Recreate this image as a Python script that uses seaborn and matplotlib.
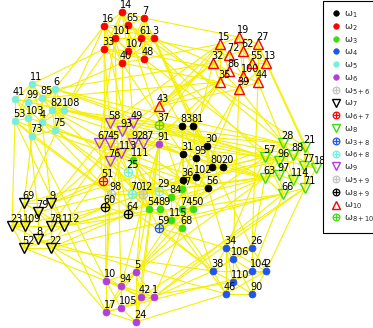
import numpy as np
import pandas as pd
import matplotlib
matplotlib.use("Agg")
import matplotlib.pyplot as plt
import seaborn as sns

# node ids and positions (pixel units)
ids_w1 = [83, 81, 30, 31, 95, 80, 20, 36, 102, 56]
x_w1 = [182, 193, 207, 183, 196, 212, 223, 183, 196, 208]
y_w1 = [126, 126, 146, 154, 158, 167, 167, 180, 177, 188]

ids_w2 = [14, 7, 16, 65, 101, 61, 3, 33, 107, 40, 48]
x_w2 = [122, 144, 104, 128, 115, 141, 154, 104, 128, 122, 144]
y_w2 = [12, 18, 26, 25, 38, 38, 38, 49, 51, 63, 59]

ids_w3 = [111, 47, 84, 54, 89, 74, 50, 115, 68]
x_w3 = [133, 182, 171, 149, 160, 182, 193, 171, 182]
y_w3 = [160, 189, 197, 209, 209, 209, 209, 220, 228]

ids_w4 = [34, 26, 106, 38, 104, 2, 110, 46, 90]
x_w4 = [226, 252, 233, 213, 252, 266, 233, 226, 252]
y_w4 = [248, 248, 259, 271, 271, 271, 282, 294, 294]

ids_w5 = [11, 6, 41, 99, 85, 82, 108, 53, 103, 4, 73, 75]
x_w5 = [32, 55, 15, 28, 42, 52, 64, 15, 28, 42, 32, 55]
y_w5 = [84, 89, 99, 102, 98, 110, 110, 121, 118, 122, 136, 130]

ids_w6 = [5, 10, 94, 42, 1, 17, 105, 24, 91]
x_w6 = [136, 106, 121, 141, 154, 106, 121, 136, 159]
y_w6 = [272, 281, 286, 297, 297, 312, 308, 322, 144]

ids_w56 = [98]
x_w56 = [111]
y_w56 = [194]

ids_w7 = [69, 9, 79, 23, 109, 78, 112, 8, 52, 22]
x_w7 = [24, 51, 38, 12, 25, 51, 64, 38, 24, 51]
y_w7 = [203, 203, 212, 226, 226, 226, 226, 239, 248, 248]

ids_w67 = [51]
x_w67 = [103]
y_w67 = [181]

ids_w8 = [28, 21, 57, 96, 88, 77, 18, 63, 97, 114, 66, 71]
x_w8 = [283, 305, 265, 279, 293, 304, 316, 265, 279, 293, 283, 305]
y_w8 = [143, 147, 157, 161, 155, 166, 168, 178, 175, 180, 194, 188]

ids_w38 = [59]
x_w38 = [159]
y_w38 = [228]

ids_w68 = [25, 70, 29]
x_w68 = [128, 132, 159]
y_w68 = [172, 194, 191]

ids_w9 = [58, 49, 93, 67, 45, 92, 87, 113, 76]
x_w9 = [110, 133, 122, 99, 110, 133, 143, 121, 110]
y_w9 = [123, 123, 131, 143, 143, 143, 143, 153, 161]

ids_w59 = [12]
x_w59 = [143]
y_w59 = [194]

ids_w89 = [60, 64]
x_w89 = [105, 128]
y_w89 = [207, 214]

ids_w10 = [19, 15, 27, 62, 72, 32, 55, 13, 86, 100, 35, 44, 39, 43]
x_w10 = [239, 220, 258, 243, 229, 213, 252, 266, 229, 243, 220, 258, 239, 159]
y_w10 = [37, 44, 44, 51, 55, 63, 63, 63, 71, 76, 82, 82, 89, 106]

ids_w810 = [37]
x_w810 = [159]
y_w810 = [125]

edges_txt = """
14-7 14-16 14-65 14-101 14-61 14-107 14-33 7-65 7-61 7-3 7-48 7-40 16-101 16-33 16-65 16-107
16-40 65-101 65-61 65-3 65-107 101-61 101-33 101-107 101-40 61-3 61-107 61-48 3-48 3-107 3-40
33-107 33-40 107-40 107-48 40-48 33-48 16-3
11-6 11-41 11-99 11-85 11-82 11-53 6-85 6-82 6-108 6-75 41-99 41-53 41-103 41-4 99-85 99-103
99-53 99-73 85-82 85-108 85-4 82-108 82-4 82-75 108-75 108-4 53-103 53-73 103-4 103-73 4-73
4-75 73-75 41-108 11-4 6-103
58-49 58-93 58-67 58-45 58-113 49-93 49-92 49-87 93-45 93-92 93-87 93-113 67-45 67-76 67-113
45-92 45-76 45-113 92-87 92-113 87-113 113-76 87-76 58-87 49-67
69-9 69-79 69-23 69-109 69-52 9-79 9-78 9-112 9-22 79-109 79-78 79-8 23-109 23-52 23-8 109-78
109-8 109-52 78-112 78-8 78-22 112-22 112-8 8-52 8-22 52-22 69-112 23-79
5-10 5-94 5-42 5-1 5-24 10-94 10-17 10-105 10-42 94-105 94-42 94-1 94-17 42-1 42-105 42-24
1-24 1-105 17-105 17-24 105-24 5-17 10-1 91-94 91-5 91-42
34-26 34-106 34-38 34-110 34-46 26-106 26-104 26-2 26-90 106-38 106-104 106-110 106-90 38-110
38-46 38-104 104-2 104-110 104-90 2-90 2-46 110-46 110-90 46-90 34-2 38-26
28-21 28-57 28-96 28-88 28-63 21-88 21-77 21-18 21-71 57-96 57-63 57-97 96-88 96-97 96-114
96-63 88-77 88-114 88-18 77-18 77-114 77-71 18-71 63-97 63-66 97-114 97-66 114-66 114-71
66-71 28-114 57-66 21-97
19-15 19-27 19-62 19-72 19-55 15-72 15-32 15-86 15-35 27-62 27-55 27-13 27-44 62-72 62-100
62-55 72-32 72-86 72-100 32-86 32-35 32-39 55-13 55-100 55-44 13-44 13-39 86-35 86-100 100-39
100-44 35-39 39-44 43-32 43-35 43-39 43-15 19-100 13-62
83-81 83-31 83-95 83-36 81-30 81-95 81-80 30-95 30-80 30-20 30-56 31-95 31-36 31-102 95-102
95-80 80-20 80-102 20-56 20-102 36-102 36-56 102-56 83-30 81-20 31-56
111-47 111-84 111-54 111-89 47-84 47-74 47-50 84-89 84-115 84-74 54-89 54-115 54-68 89-115
89-74 74-50 74-68 50-115 50-68 115-68 111-115 47-68
37-43 37-28 37-57 37-15 37-91 37-83 37-63
25-111 25-70 25-29 25-45 25-76 25-113 25-84
70-12 70-98 70-29 70-54 70-88 70-96
29-84 29-89 29-12 29-91 29-97 29-63
51-98 51-76 51-69 51-9 51-67 51-113
98-12 98-60 98-53 98-4 98-10
12-54 12-75 12-82 12-64 12-5
60-64 60-23 60-112 60-49 60-28
64-52 64-22 64-58 64-89 64-87
59-34 59-38 59-115 59-57 59-66 59-54
3-32 48-15 61-72 7-19 40-35 107-86 33-11 16-6 40-85 101-108 48-83 3-30 40-31 7-81
3-28 61-57 48-96 65-21 33-58 40-93 107-49 101-67 16-111 14-47 33-10 101-94 16-69 7-26
108-83 6-30 82-20 75-102 6-57 85-63 108-88 11-28 108-58 75-67 82-45 6-32 85-35
73-69 53-23 103-79 4-9 73-10 53-17 75-54 4-111 73-38
87-31 92-36 49-83 92-57 87-63 93-28 49-32 58-15 67-9 76-112 45-78 113-111 76-54 76-10
112-56 78-36 9-95 22-66 112-63 79-57 22-38 8-46 52-10 22-17 8-94 112-74 9-32
1-66 42-71 5-63 1-38 24-46 42-110 5-115 94-68 5-56 1-39
26-63 2-71 104-66 34-57 34-56 38-36 26-44 106-39 38-68 46-115
57-20 63-80 96-30 28-44 21-13 88-39 18-27 63-50 66-74
39-30 35-81 86-83 35-111 32-47 36-47 102-50 31-84 56-74 95-115
91-93 91-111 91-31 91-24 1-71 41-18 53-56 17-2
"""

grp = {
    "w1": (ids_w1, x_w1, y_w1), "w2": (ids_w2, x_w2, y_w2), "w3": (ids_w3, x_w3, y_w3),
    "w4": (ids_w4, x_w4, y_w4), "w5": (ids_w5, x_w5, y_w5), "w6": (ids_w6, x_w6, y_w6),
    "w56": (ids_w56, x_w56, y_w56), "w7": (ids_w7, x_w7, y_w7), "w67": (ids_w67, x_w67, y_w67),
    "w8": (ids_w8, x_w8, y_w8), "w38": (ids_w38, x_w38, y_w38), "w68": (ids_w68, x_w68, y_w68),
    "w9": (ids_w9, x_w9, y_w9), "w59": (ids_w59, x_w59, y_w59), "w89": (ids_w89, x_w89, y_w89),
    "w10": (ids_w10, x_w10, y_w10), "w810": (ids_w810, x_w810, y_w810),
}
labels = {
    "w1": "ω$_{1}$", "w2": "ω$_{2}$", "w3": "ω$_{3}$", "w4": "ω$_{4}$", "w5": "ω$_{5}$",
    "w6": "ω$_{6}$", "w56": "ω$_{5+6}$", "w7": "ω$_{7}$", "w67": "ω$_{6+7}$", "w8": "ω$_{8}$",
    "w38": "ω$_{3+8}$", "w68": "ω$_{6+8}$", "w9": "ω$_{9}$", "w59": "ω$_{5+9}$",
    "w89": "ω$_{8+9}$", "w10": "ω$_{10}$", "w810": "ω$_{8+10}$",
}

GREEN = "#3ddc10"
PURPLE = "#b13fe0"
CYAN = "#7aeedc"
BLUE = "#1f55f0"
GREY = "#c4c4c4"

# kind: dot / tri_down / tri_up / oplus
style = {
    "w1": ("dot", "black"), "w2": ("dot", "red"), "w3": ("dot", GREEN), "w4": ("dot", BLUE),
    "w5": ("dot", CYAN), "w6": ("dot", PURPLE), "w56": ("oplus", GREY), "w7": ("v", "black"),
    "w67": ("oplus", "red"), "w8": ("v", GREEN), "w38": ("oplus", BLUE), "w68": ("oplus", CYAN),
    "w9": ("v", PURPLE), "w59": ("oplus", GREY), "w89": ("oplus", "black"),
    "w10": ("^", "red"), "w810": ("oplus", GREEN),
}

pos = {}
for k, (ids, xs, ys) in grp.items():
    for i, x, y in zip(ids, xs, ys):
        pos[i] = (x, y)

rows = []
for n, e in enumerate(edges_txt.split()):
    a, b = (int(v) for v in e.split("-"))
    rows.append((n, pos[a][0], pos[a][1]))
    rows.append((n, pos[b][0], pos[b][1]))
edges = pd.DataFrame(rows, columns=["edge", "x", "y"])

sns.set_style("white")
fig = plt.figure(figsize=(3.73, 3.28), dpi=100)
ax = fig.add_axes([0, 0, 1, 1])

sns.lineplot(data=edges, x="x", y="y", units="edge", estimator=None, sort=False,
             color="#f4f000", lw=0.8, ax=ax, legend=False, zorder=1)

handles = []
for k, (ids, xs, ys) in grp.items():
    kind, c = style[k]
    if kind == "dot":
        h, = ax.plot(xs, ys, ls="none", marker="o", ms=5, mfc=c, mec=c, mew=0.5, zorder=3)
    elif kind in ("v", "^"):
        h, = ax.plot(xs, ys, ls="none", marker=kind, ms=6.5, mfc="none", mec=c, mew=1, zorder=3)
    else:
        h1, = ax.plot(xs, ys, ls="none", marker="o", ms=6, mfc="none", mec=c, mew=0.9, zorder=3)
        h2, = ax.plot(xs, ys, ls="none", marker="+", ms=6, mec=c, mew=0.9, zorder=3)
        h = (h1, h2)
    handles.append(h)
    for i, x, y in zip(ids, xs, ys):
        ax.annotate(str(i), (x, y), xytext=(-1.5, 3), textcoords="offset points",
                    ha="left", va="baseline", fontsize=7, color="black", zorder=4)

ax.set_xlim(0, 373)
ax.set_ylim(328, 0)
ax.axis("off")

leg = ax.legend(handles, [labels[k] for k in grp], loc="upper left",
                bbox_to_anchor=(323 / 373, 1 - 1 / 328), bbox_transform=fig.transFigure,
                fontsize=6.8, frameon=True, fancybox=False, framealpha=1,
                edgecolor="black", handlelength=1.0, handletextpad=0.3,
                labelspacing=0.24, borderpad=0.9, borderaxespad=0, markerscale=0.8)
leg.get_frame().set_linewidth(0.8)

fig.savefig("out.png", dpi=100)
